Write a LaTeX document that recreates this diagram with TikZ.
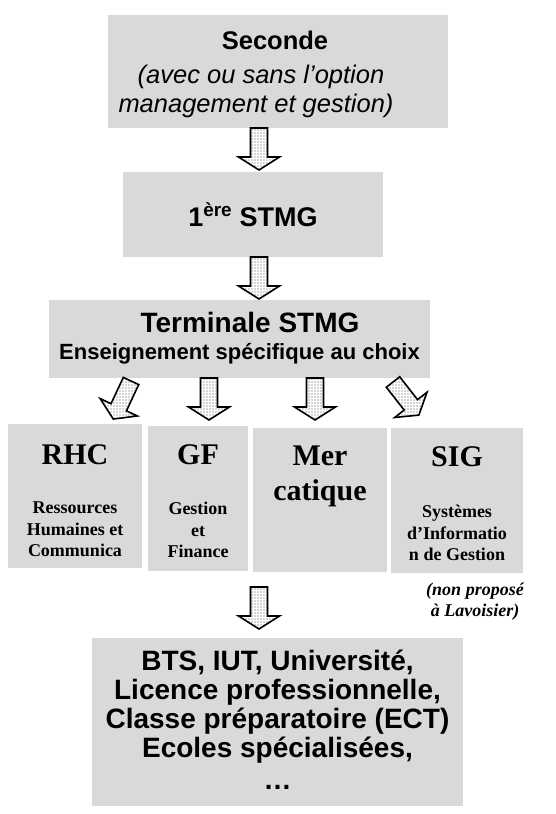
\documentclass[tikz,border=0pt]{standalone}
\usepackage{fontspec}
\setmainfont{Liberation Serif}
\setsansfont{Liberation Sans}
\usetikzlibrary{patterns.meta}
\definecolor{boxgray}{RGB}{217,217,217}
\newcommand\blockarr[4]{%
  \begin{scope}[shift={(#2,#3)}, rotate=#4]
    \coordinate (#1) at (0,0);
    \draw[blockarrow] (-8.5,0) -- (8.5,0) -- (8.5,29) -- (20.5,29) -- (0,42) -- (-20.5,29) -- (-8.5,29) -- cycle;
  \end{scope}}
\begin{document}
\begin{tikzpicture}[x=1pt,y=-1pt,
  box/.style={fill=boxgray, draw=none, inner sep=0pt, outer sep=0pt},
  lbl/.style={anchor=base, inner sep=0pt},
  blockarrow/.style={draw=black, line width=1.6pt, line join=miter,
    preaction={fill=white},
    pattern={Dots[distance=3pt, radius=0.7pt]}, pattern color=black!70},
  finfont/.style={lbl, font=\sffamily\bfseries\fontsize{28}{30}\selectfont},
  sertitle/.style={lbl, font=\rmfamily\bfseries\fontsize{30}{32}\selectfont},
  sersub/.style={lbl, font=\rmfamily\bfseries\fontsize{18}{20}\selectfont}]
\useasboundingbox (0,0) rectangle (556,814);

% Seconde
\node[box, minimum width=340, minimum height=113] (sec) at (278,71.5) {};
\node[lbl, font=\sffamily\bfseries\fontsize{25.5}{28}\selectfont] (sec1) at (275,49) {Seconde};
\node[lbl, font=\sffamily\itshape\fontsize{25.5}{28}\selectfont] (sec2) at (261,83) {(avec ou sans l’option};
\node[lbl, font=\sffamily\itshape\fontsize{25.5}{28}\selectfont] (sec3) at (256,112) {management et gestion)};
\blockarr{a1}{259}{128}{0}

% 1ere STMG
\node[box, minimum width=260, minimum height=85] (prem) at (253,214.5) {};
\node[lbl, font=\sffamily\bfseries\fontsize{27}{30}\selectfont] (premt) at (253,226) {1\textsuperscript{ère} STMG};
\blockarr{a2}{259}{257}{0}

% Terminale
\node[box, minimum width=381, minimum height=78] (term) at (239.5,339) {};
\node[lbl, font=\sffamily\bfseries\fontsize{28}{30}\selectfont] (termt) at (250,332) {Terminale STMG};
\node[lbl, font=\sffamily\bfseries\fontsize{22}{24}\selectfont] (terms) at (239.5,359) {Enseignement spécifique au choix};

\blockarr{a3}{131}{381}{-25}
\blockarr{a4}{209}{378}{0}
\blockarr{a5}{315}{378}{0}
\blockarr{a6}{393}{382}{38}

% four specialities
\node[box, minimum width=134, minimum height=144] (rhc) at (75,496) {};
\node[box, minimum width=100, minimum height=145] (gf) at (198,498.5) {};
\node[box, minimum width=134, minimum height=144] (mer) at (320,500) {};
\node[box, minimum width=132, minimum height=145] (sig) at (457,500.5) {};

\node[sertitle] (rhct) at (75,464) {RHC};
\node[sersub] (rhc1) at (75,513) {Ressources};
\node[sersub] (rhc2) at (75,535) {Humaines et};
\node[sersub] (rhc3) at (75,556) {Communica};

\node[sertitle] (gft) at (198,464) {GF};
\node[sersub] (gf1) at (198,514) {Gestion};
\node[sersub] (gf2) at (198,536) {et};
\node[sersub] (gf3) at (198,557) {Finance};

\node[sertitle] (mer1) at (320,465) {Mer};
\node[sertitle] (mer2) at (320,500) {catique};

\node[sertitle] (sigt) at (457,466) {SIG};
\node[sersub] (sig1) at (457,517) {Systèmes};
\node[sersub] (sig2) at (457,539) {d’Informatio};
\node[sersub] (sig3) at (457,560) {n de Gestion};

\node[lbl, font=\rmfamily\bfseries\itshape\fontsize{18}{20}\selectfont] (note1) at (475,595) {(non proposé};
\node[lbl, font=\rmfamily\bfseries\itshape\fontsize{18}{20}\selectfont] (note2) at (475,616) {à Lavoisier)};

\blockarr{a7}{259}{587}{0}

% final
\node[box, minimum width=371, minimum height=168] (fin) at (277.5,722) {};
\node[finfont] (fin1) at (277.5,670) {BTS, IUT, Université,};
\node[finfont] (fin2) at (277.5,699) {Licence professionnelle,};
\node[finfont] (fin3) at (277.5,728) {Classe préparatoire (ECT)};
\node[finfont] (fin4) at (277.5,757) {Ecoles spécialisées,};
\node[finfont] (fin5) at (277.5,789) {…};
\end{tikzpicture}
\end{document}
